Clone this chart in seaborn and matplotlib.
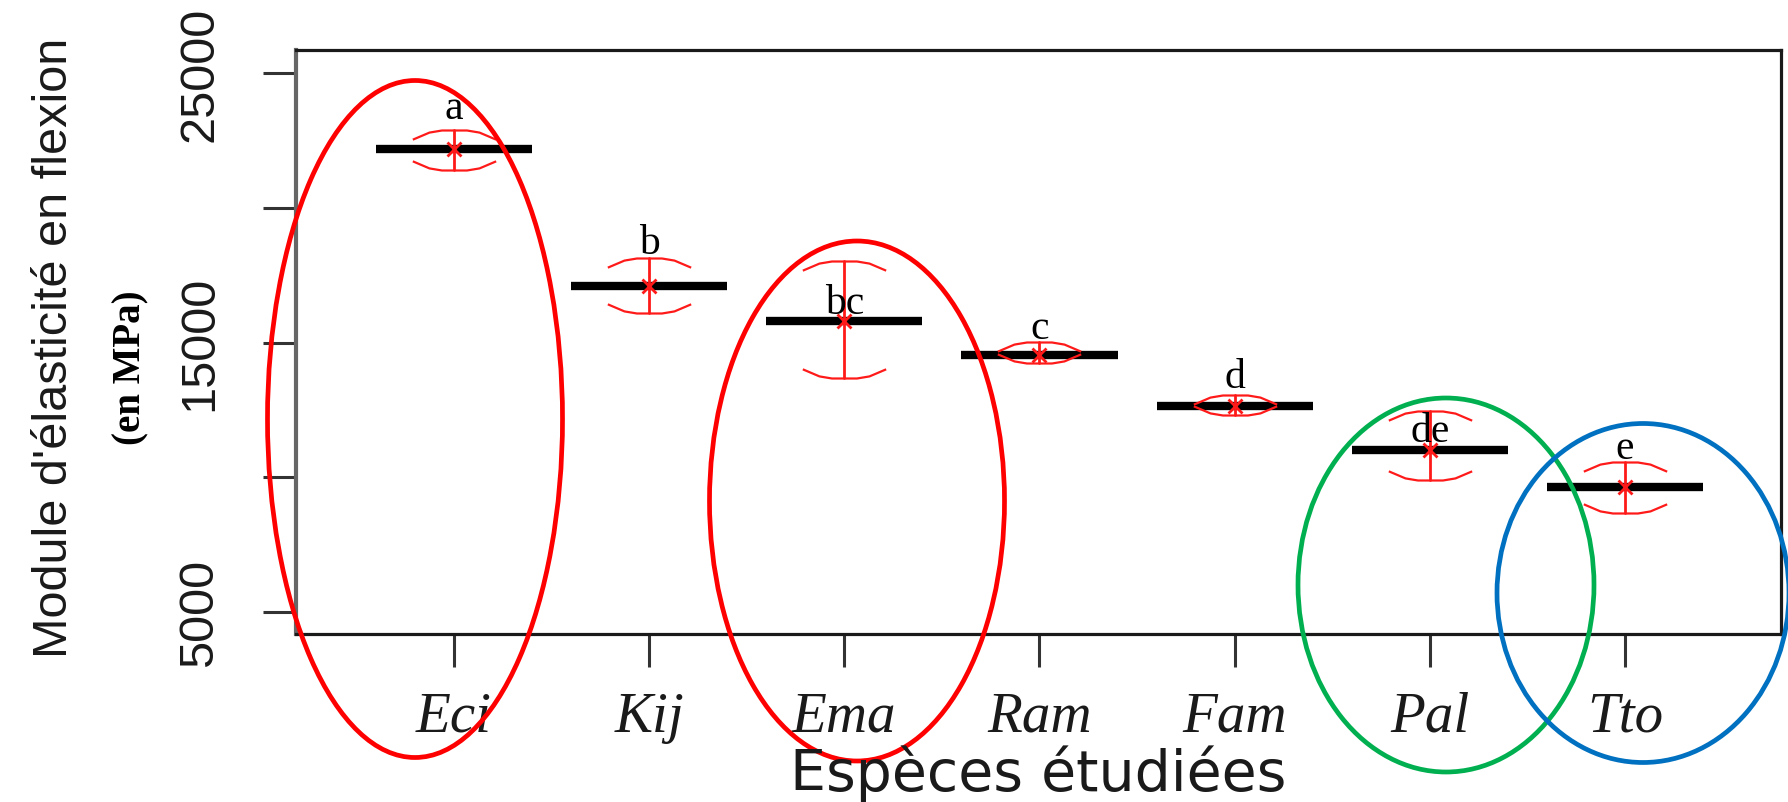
import matplotlib
matplotlib.use("Agg")
import matplotlib.pyplot as plt
from matplotlib import font_manager
from matplotlib.patches import Ellipse
from matplotlib.path import Path
import numpy as np
import pandas as pd
import seaborn as sns

sns.set_style("white")
plt.rcParams['font.family'] = ['Liberation Sans', 'DejaVu Sans']

# data
species = ["Eci", "Kij", "Ema", "Ram", "Fam", "Pal", "Tto"]
moe_mean = [22190, 17080, 15800, 14520, 12660, 11030, 9650]
moe_low = [21390, 16090, 13670, 14230, 12300, 9890, 8680]
moe_high = [22870, 18130, 18030, 15010, 13040, 12460, 10580]
letters = ["a", "b", "bc", "c", "d", "de", "e"]
letter_y = [23340, 18320, 16090, 15160, 13340, 11330, 10700]
ytick_vals = [5000, 10000, 15000, 20000, 25000]
ytick_labels = ["5000", "", "15000", "", "25000"]

# long table: low / mean / high per species, median -> mean, range -> error bar
df = pd.DataFrame({
    "espece": np.repeat(species, 3),
    "module": np.column_stack([moe_low, moe_mean, moe_high]).ravel(),
})

installed = {f.name for f in font_manager.fontManager.ttflist}
if "Liberation Sans Narrow" in installed:
    yfont, ysize, ypad = ["Liberation Sans Narrow", "DejaVu Sans"], 43, 27
else:
    yfont, ysize, ypad = ["Liberation Sans", "DejaVu Sans"], 35, 29

W, H = 1788, 803
fig = plt.figure(figsize=(W / 100, H / 100), dpi=100)
ax = fig.add_axes([296 / W, 1 - 635 / H, (1781 - 296) / W, (635 - 51) / H])

xpos = np.arange(len(species))
ax.hlines(moe_mean, xpos - 0.4, xpos + 0.4, colors="black", lw=6.0, zorder=1.5)

sns.pointplot(data=df, x="espece", y="module", order=species, estimator="median",
              errorbar=lambda v: (v.min(), v.max()), color="#ff1a1a",
              marker="x", markersize=10, markeredgewidth=2, linestyle="none",
              capsize=0, err_kws={"linewidth": 2.0}, ax=ax)

# curved whisker caps
top_cap = Path([(-1, -0.22), (-0.6, -0.05), (-0.3, 0), (0.3, 0), (0.6, -0.05), (1, -0.22)])
bot_cap = Path([(-1, 0.22), (-0.6, 0.05), (-0.3, 0), (0.3, 0), (0.6, 0.05), (1, 0.22)])
ax.plot(xpos, moe_high, linestyle="none", marker=top_cap, ms=60, mfc="none",
        mec="#ff1a1a", mew=1.6, zorder=3)
ax.plot(xpos, moe_low, linestyle="none", marker=bot_cap, ms=60, mfc="none",
        mec="#ff1a1a", mew=1.6, zorder=3)

for x, lab, yy in zip(xpos, letters, letter_y):
    ax.text(x, yy, lab, ha="center", va="baseline", fontsize=30,
            family=["Liberation Serif", "DejaVu Serif"], color="black", zorder=4)

ax.set_xlim(-0.81, 6.80)
ax.set_ylim(4190, 25850)
ax.set_yticks(ytick_vals)
ax.set_yticklabels(ytick_labels, family=yfont)
ax.set_xticks(xpos)
ax.set_xticklabels(species, fontsize=41, style="italic",
                   family=["Liberation Serif", "DejaVu Serif"])
ax.set_xlabel("")
ax.set_ylabel("")

ax.tick_params(axis="both", direction="out", length=24, width=2.2, color="#333333",
               left=True, bottom=True)
ax.tick_params(axis="y", labelrotation=90, labelsize=ysize, pad=ypad, labelcolor="#1a1a1a")
ax.tick_params(axis="x", pad=17, labelcolor="#1a1a1a")
for lab in ax.get_yticklabels():
    lab.set_va("center")

for side in ["top", "right", "bottom"]:
    ax.spines[side].set_color("#1a1a1a")
    ax.spines[side].set_linewidth(2.3)
ax.spines["left"].set_color("#666666")
ax.spines["left"].set_linewidth(3.0)

fig.text(55 / W, 1 - 348 / H, "Module d'élasticité en flexion", rotation=90,
         ha="center", va="center", fontsize=ysize, family=yfont, color="#1a1a1a")
fig.text(131 / W, 1 - 368 / H, "(en MPa)", rotation=90, ha="center", va="center",
         fontsize=28, fontweight="bold", family=["Liberation Serif", "DejaVu Serif"],
         color="black")
fig.text(1038 / W, 1 - 791 / H, "Espèces étudiées", ha="center", va="baseline",
         fontsize=41, family=["DejaVu Sans"], color="#1a1a1a")

# highlight ellipses (figure pixel geometry: cx, cy, w, h, colour)
ell_cx = [415, 857, 1446, 1643]
ell_cy = [420, 502, 586, 594]
ell_w = [295, 295, 296, 292]
ell_h = [677, 520, 374, 339]
ell_col = ["#ff0000", "#ff0000", "#00b050", "#0070c0"]
for cx, cy, w, h, c in zip(ell_cx, ell_cy, ell_w, ell_h, ell_col):
    fig.add_artist(Ellipse((cx / W, 1 - cy / H), w / W, h / H, fill=False,
                           edgecolor=c, lw=3.4, transform=fig.transFigure))

fig.savefig("out.png", dpi=100)
